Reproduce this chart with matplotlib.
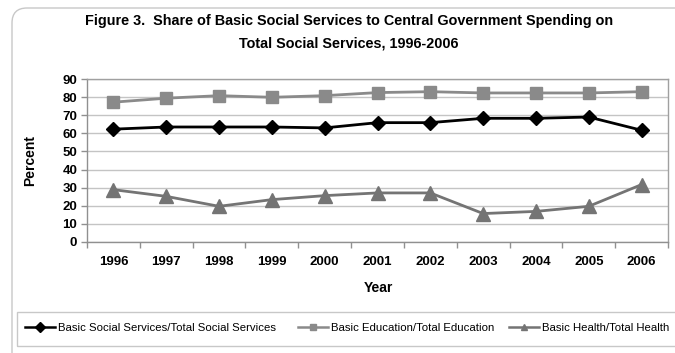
import matplotlib
matplotlib.use("Agg")
import matplotlib.pyplot as plt
from matplotlib.patches import FancyBboxPatch, Rectangle
from matplotlib.transforms import IdentityTransform
from matplotlib.ticker import FixedLocator, NullFormatter

plt.rcParams['font.family'] = ['Liberation Sans', 'DejaVu Sans']

years = ['1996', '1997', '1998', '1999', '2000', '2001', '2002', '2003', '2004', '2005', '2006']
basic_social = [62.3, 63.5, 63.5, 63.5, 63.0, 65.9, 65.9, 68.3, 68.3, 69.0, 61.7]
basic_education = [77.2, 79.4, 80.8, 79.9, 80.8, 82.5, 83.0, 82.3, 82.3, 82.3, 83.0]
basic_health = [28.9, 25.2, 19.7, 23.4, 25.6, 27.1, 27.1, 15.7, 16.9, 19.7, 31.7]
series_names = ['Basic Social Services/Total Social Services',
                'Basic Education/Total Education',
                'Basic Health/Total Health']
yticks = list(range(0, 91, 10))

W, H = 675, 353
fig = plt.figure(figsize=(W / 100, H / 100), dpi=100)

# outer rounded border (pixel coords)
outer = FancyBboxPatch((12, -20), 700, H - 8 + 20, boxstyle="round,pad=0,rounding_size=15",
                       transform=IdentityTransform(), fill=False, edgecolor='#c8c8c8', lw=1.0)
fig.patches.append(outer)
# legend box
legbox = Rectangle((17, H - 346), 700, 34, transform=IdentityTransform(), fill=False,
                   edgecolor='#c8c8c8', lw=1.0)
fig.patches.append(legbox)

ax = fig.add_axes([87 / W, 1 - 242 / H, (668 - 87) / W, (242 - 79) / H])
x = list(range(len(years)))
l1, = ax.plot(x, basic_social, color='black', lw=2, marker='D', ms=7, zorder=4)
l2, = ax.plot(x, basic_education, color='#8a8a8a', lw=2, marker='s', ms=8.5, zorder=3)
l3, = ax.plot(x, basic_health, color='#747474', lw=2, marker='^', ms=10, zorder=3)

ax.set_xlim(-0.5, len(years) - 0.5)
ax.set_ylim(0, 90)
ax.set_yticks(yticks)
ax.set_yticklabels([str(v) for v in yticks], fontsize=9.5, fontweight='bold')
ax.set_xticks(x)
ax.set_xticklabels(years, fontsize=9.5, fontweight='bold')
ax.tick_params(axis='x', which='major', length=0, pad=10)
ax.xaxis.set_minor_locator(FixedLocator([i - 0.5 for i in range(len(years) + 1)]))
ax.xaxis.set_minor_formatter(NullFormatter())
ax.tick_params(axis='x', which='minor', length=4, color='#909090', width=1)
ax.tick_params(axis='y', length=4, color='#909090', width=1, pad=3)
ax.grid(axis='y', color='#c4c4c4', lw=1)
ax.set_axisbelow(True)
for s in ax.spines.values():
    s.set_color('#a0a0a0')
    s.set_linewidth(1)
ax.spines['left'].set_color('#909090')
ax.spines['bottom'].set_color('#909090')

fig.text(349 / W, 1 - 32 / H,
         'Figure 3.  Share of Basic Social Services to Central Government Spending on\nTotal Social Services, 1996-2006',
         ha='center', va='center', fontsize=10.4, fontweight='bold', linespacing=1.75)
fig.text(30 / W, 1 - 160 / H, 'Percent', rotation=90, ha='center', va='center',
         fontsize=10, fontweight='bold')
fig.text(378 / W, 1 - 288 / H, 'Year', ha='center', va='center', fontsize=10, fontweight='bold')

legend_x = [25, 298, 509]
for handle, name, lx in zip([l1, l2, l3], series_names, legend_x):
    leg = fig.legend([handle], [name], loc='center left',
                     bbox_to_anchor=(lx / W, 1 - 328 / H), frameon=False,
                     fontsize=8.2, handlelength=2.65, handletextpad=0.26,
                     borderaxespad=0, borderpad=0)
    for h in leg.legend_handles:
        h.set_markersize(5)
        h.set_linewidth(1.8)

fig.savefig('out.png', dpi=100)
